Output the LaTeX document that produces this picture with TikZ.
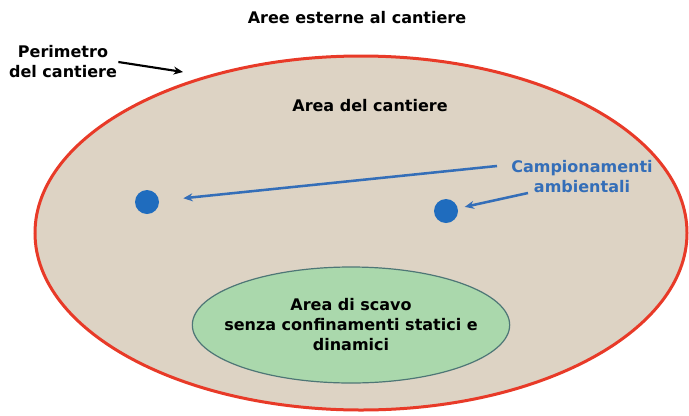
\documentclass[tikz,border=0pt]{standalone}
\usepackage{fontspec}
\setmainfont{DejaVu Sans}
\usetikzlibrary{shapes.geometric,arrows.meta}

\definecolor{siteFill}{RGB}{221,211,196}
\definecolor{siteRed}{RGB}{232,58,40}
\definecolor{digFill}{RGB}{170,216,172}
\definecolor{digLine}{RGB}{78,118,118}
\definecolor{probeBlue}{RGB}{31,108,190}
\definecolor{labelBlue}{RGB}{52,110,184}

\tikzset{every picture/.style={line width=0.75pt}}
\tikzset{
  lbl/.style={inner sep=0.75pt, align=center, font=\fontsize{12}{15}\selectfont\bfseries},
  probe/.style={circle, fill=probeBlue, draw=none, minimum size=18pt, inner sep=0pt},
  probeArrow/.style={draw=labelBlue, line width=1.9pt, -{Stealth[length=7pt,width=6pt]}},
}

\begin{document}
\begin{tikzpicture}[x=0.75pt,y=0.75pt,yscale=-1,xscale=1]
\useasboundingbox (0,0) rectangle (689,415);

%Shape: Ellipse
\node [ellipse, draw=siteRed, fill=siteFill, line width=2.25pt, minimum width=489pt, minimum height=265.5pt, inner sep=0pt] (site) at (361,233) {};
%Shape: Ellipse
\node [ellipse, draw=digLine, fill=digFill, line width=0.9pt, minimum width=238pt, minimum height=87pt, inner sep=0pt] (dig) at (351,325) {};

%Shape: Circle
\node [probe] (dotL) at (147,202) {};
%Shape: Circle
\node [probe] (dotR) at (446,211) {};

% Text Node
\node [lbl] (outside) at (357,18) {Aree esterne al cantiere};
% Text Node
\node [lbl] (perim) at (63,62) {Perimetro\\del cantiere};
% Text Node
\node [lbl] (siteLbl) at (370,106) {Area del cantiere};
% Text Node
\node [lbl] (digLbl) at (dig.center) {Area di scavo\\senza confinamenti statici e\\dinamici};
% Text Node
\node [lbl, text=labelBlue] (camp) at (582,177) {Campionamenti\\ambientali};

\coordinate (perimTip) at (183,72);
\coordinate (campTailA) at (497,166);
\coordinate (campTailB) at (528,193);

%Straight Lines
\draw [line width=1.6pt, -{Stealth[length=7pt,width=6pt]}] (perim.east) -- (perimTip);
%Straight Lines
\draw [probeArrow, shorten >=18pt] (campTailA) -- (dotL);
%Straight Lines
\draw [probeArrow, shorten >=5pt] (campTailB) -- (dotR);

\end{tikzpicture}
\end{document}
